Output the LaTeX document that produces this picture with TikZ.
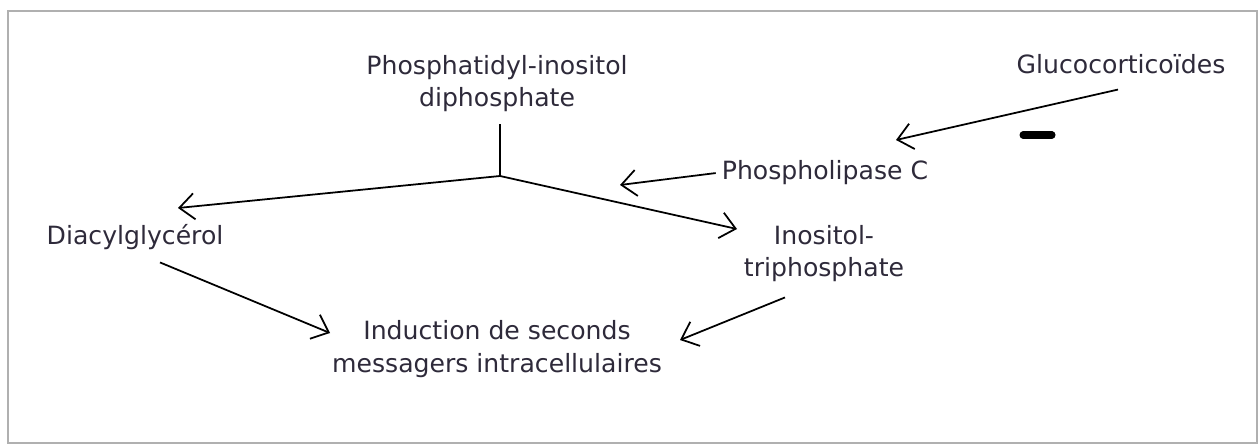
\documentclass[tikz,border=0pt]{standalone}
\usepackage{fontspec}
\setmainfont{DejaVu Sans}
\usetikzlibrary{arrows.meta, positioning}
\definecolor{txtDark}{HTML}{2E2A3A}
\definecolor{frameGrey}{HTML}{B0B0B0}
\tikzset{
  link/.style     = {line width=1pt, black},
  arr/.style      = {link, -{Straight Barb[length=3mm, width=5.2mm]}},
  lbl/.style      = {font=\fontsize{14.3}{18.7}\selectfont, txtDark, align=center, anchor=base},
  minusbar/.style = {line width=4pt, line cap=round, black},
  frame/.style    = {frameGrey, line width=1.1pt},
}
\begin{document}
\begin{tikzpicture}[x=0.2mm, y=-0.2mm]
\useasboundingbox (0,0) rectangle (1259,444);
\draw[frame] (8,11) rectangle (1257,443);
% substances (base = last line)
\node[lbl] (pip)   at (497,107) {Phosphatidyl-inositol\\diphosphate};
\node[lbl] (gluco) at (1121,74) {Glucocorticoïdes};
\node[lbl] (plc)   at (825,180) {Phospholipase C};
\node[lbl] (dag)   at (135,245) {Diacylglycérol};
\node[lbl] (ip3)   at (824,277) {Inositol-\\triphosphate};
\node[lbl] (ind)   at (497,372) {Induction de seconds\\messagers intracellulaires};
% arrow tips and the split point
\coordinate (split)    at (500,176);
\coordinate (dagTip)   at (178,208);
\coordinate (ipTip)    at (737,229);
\coordinate (plcTip)   at (620,185);
\coordinate (glucoTip) at (896,140);
\coordinate (dagInd)   at (330,333);
\coordinate (ipInd)    at (680,340);
% hydrolysis of PIP2
\draw[link] ([yshift=-1.2mm]pip.south -| split) -- (split);
\draw[arr] (split) -- (dagTip);
\draw[arr] (split) -- (ipTip);
% activation / inhibition
\draw[arr] (plc.west) -- (plcTip);
\draw[arr] ([shift={(-3,9)}]gluco.south) -- (glucoTip);
\draw[minusbar] (1023,135) -- (1052,135);
% second messengers
\draw[arr] ([shift={(25,6)}]dag.south) -- (dagInd);
\draw[arr] ([shift={(-39,9)}]ip3.south) -- (ipInd);
\end{tikzpicture}
\end{document}
